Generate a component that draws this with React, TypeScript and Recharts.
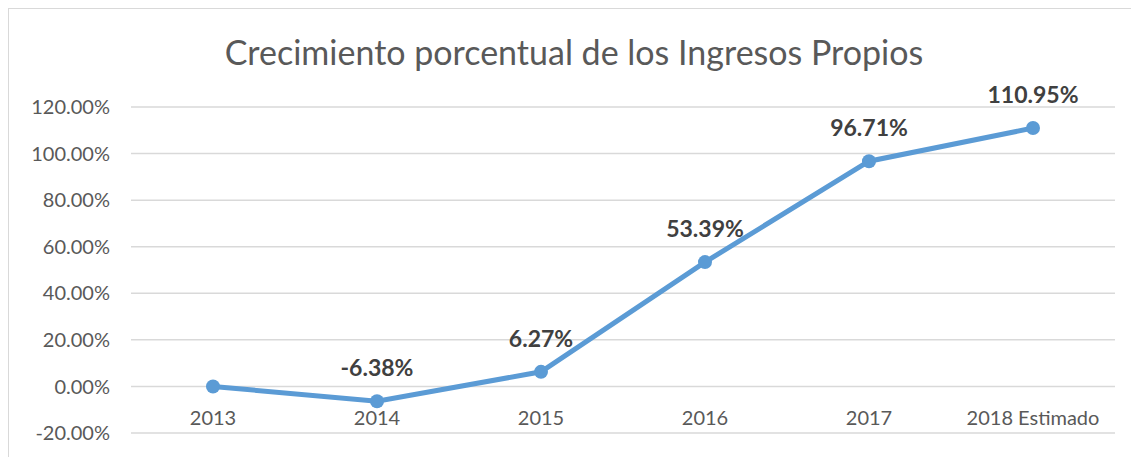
import { LineChart, Line, XAxis, YAxis, CartesianGrid } from 'recharts';

const years = ['2013', '2014', '2015', '2016', '2017', '2018 Estimado'];
const growth = [0, -6.38, 6.27, 53.39, 96.71, 110.95];
const yTicks = [-20, 0, 20, 40, 60, 80, 100, 120];

const data = years.map((year, i) => ({ year, growth: growth[i] }));

const font = 'Lato, "Open Sans", sans-serif';

const XTick = (props: any) => {
    const { x, y, payload } = props;
    return (
        <text x={x} y={y - 16} textAnchor="middle" fill="#595959" fontSize={20} fontFamily={font}>
            {payload.value}
        </text>
    );
};

const PointLabel = (props: any) => {
    const { x, y, value } = props;
    if (!value) return null;
    return (
        <text x={x} y={y - 25} textAnchor="middle" fill="#404040" fontSize={23} fontWeight={700} fontFamily={font}>
            {`${Number(value).toFixed(2)}%`}
        </text>
    );
};

export default function App() {
    return (
        <div style={{ position: 'relative', width: 1131, height: 449, borderTop: '1px solid #d9d9d9', borderLeft: '1px solid #d9d9d9', boxSizing: 'border-box', background: '#fff' }}>
            <div style={{ position: 'absolute', left: 0, right: 0, top: 22, textAlign: 'center', fontFamily: font, fontSize: 34, color: '#595959' }}>
                Crecimiento porcentual de los Ingresos Propios
            </div>
            <LineChart width={1130} height={448} data={data} margin={{ top: 98, right: 24, bottom: 0, left: 0 }}>
                <CartesianGrid vertical={false} stroke="#d9d9d9" strokeWidth={1.5} />
                <XAxis
                    dataKey="year"
                    height={24}
                    axisLine={false}
                    tickLine={false}
                    tick={<XTick />}
                    interval={0}
                    padding={{ left: 82, right: 82 }}
                />
                <YAxis
                    width={122}
                    domain={[-20, 120]}
                    ticks={yTicks}
                    axisLine={false}
                    tickLine={false}
                    tickMargin={15}
                    tickFormatter={(v) => `${v.toFixed(2)}%`}
                    tick={{ fill: '#595959', fontSize: 20, fontFamily: font }}
                />
                <Line
                    dataKey="growth"
                    stroke="#5b9bd5"
                    strokeWidth={5}
                    dot={{ r: 7, fill: '#5b9bd5', stroke: '#5b9bd5', strokeWidth: 0 }}
                    label={<PointLabel />}
                    isAnimationActive={false}
                />
            </LineChart>
        </div>
    );
}
